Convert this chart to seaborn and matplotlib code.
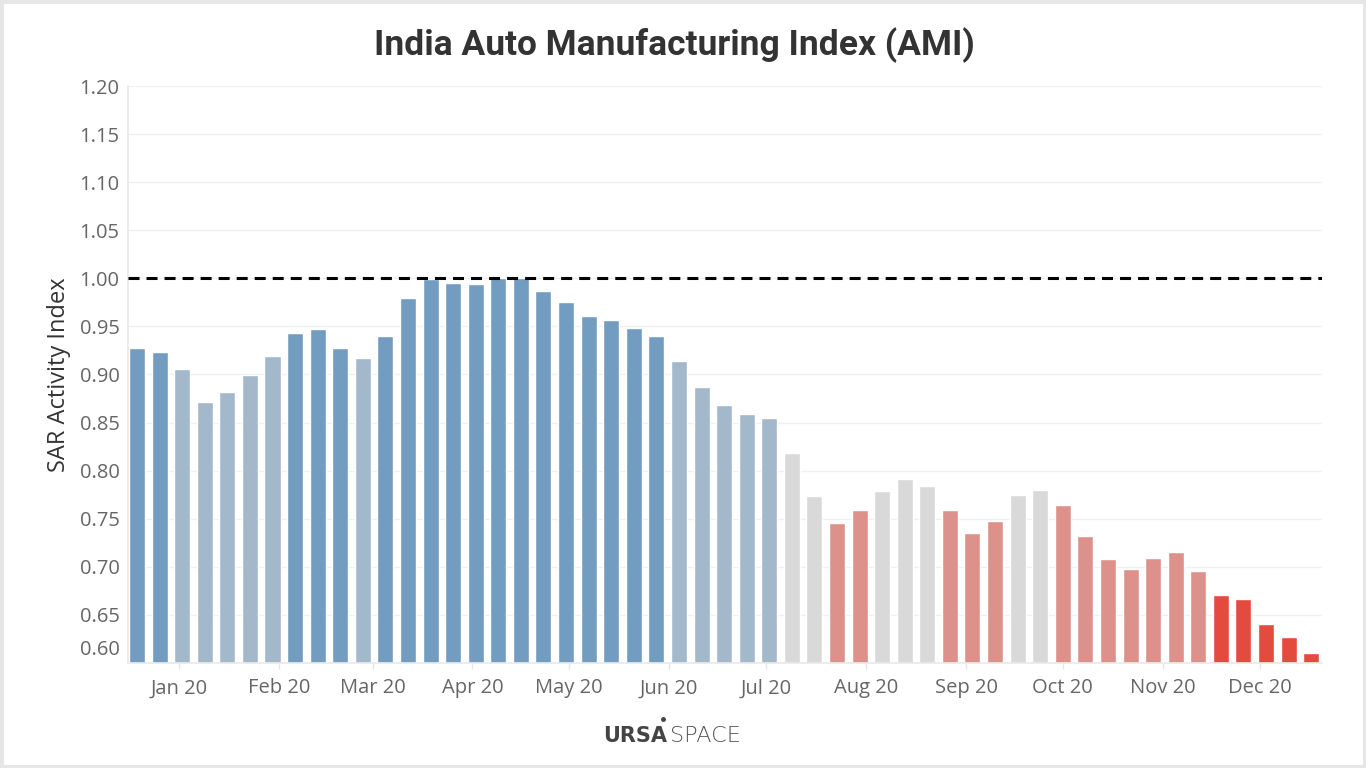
import matplotlib
matplotlib.use("Agg")
import matplotlib.pyplot as plt
import matplotlib.transforms as mtransforms
from matplotlib.lines import Line2D
from matplotlib.patches import Rectangle
import numpy as np
import pandas as pd
import seaborn as sns


# weekly SAR activity index, 2020
week_start = "2019-12-19"
values = [
    0.928, 0.923, 0.906, 0.871, 0.882, 0.899, 0.919, 0.943, 0.947, 0.928,
    0.917, 0.940, 0.980, 0.999, 0.995, 0.994, 1.000, 1.000, 0.987, 0.975,
    0.961, 0.957, 0.948, 0.940, 0.914, 0.887, 0.868, 0.859, 0.855, 0.818,
    0.774, 0.746, 0.759, 0.779, 0.791, 0.784, 0.759, 0.735, 0.748, 0.775,
    0.780, 0.764, 0.732, 0.708, 0.698, 0.709, 0.715, 0.696, 0.671, 0.667,
    0.641, 0.627, 0.610,
]
trend_codes = "DDLLLLLDDDLDDDDDDDDDDDDDLLLLLGGSSGGGSSSGGSSSSSSSRRRRR"
trend_names = {
    "D": "Strong up",
    "L": "Up",
    "G": "Flat",
    "S": "Down",
    "R": "Strong down",
}
palette = {
    "Strong up": "#729DC1",
    "Up": "#A3B8CB",
    "Flat": "#D9D9D9",
    "Down": "#DD918B",
    "Strong down": "#E24B3D",
}
y_ticks = [0.60, 0.65, 0.70, 0.75, 0.80, 0.85, 0.90, 0.95, 1.00, 1.05, 1.10, 1.15, 1.20]


def main():
    weeks = pd.date_range(week_start, periods=len(values), freq="7D")
    df = pd.DataFrame(
        {
            "Week": weeks.strftime("%Y-%m-%d"),
            "Index": values,
            "Trend": [trend_names[c] for c in trend_codes],
        }
    )

    sns.set_theme(style="white")
    plt.rcParams["font.family"] = ["Open Sans", "DejaVu Sans"]

    fig = plt.figure(figsize=(13.66, 7.68), dpi=100)
    ax = fig.add_axes([128 / 1366, 105 / 768, 1194 / 1366, 577 / 768])

    sns.barplot(
        df, x="Week", y="Index", hue="Trend", palette=palette, dodge=False,
        width=0.71, saturation=1, legend=False, ax=ax,
    )

    ax.axhline(1.0, color="black", linewidth=2.2, linestyle=(0, (3.6, 2.3)), zorder=3)

    # month ticks, in week units from the first bar
    months = pd.date_range("2020-01-01", periods=12, freq="MS")
    month_pos = [(m - weeks[0]).days / 7 for m in months]
    ax.set_xticks(month_pos)
    ax.set_xticklabels(months.strftime("%b %y"))
    ax.set_xlim(-0.4, 52.48)

    ax.set_ylim(0.60, 1.20)
    ax.set_yticks(y_ticks)
    ax.set_yticklabels([f"{t:.2f}" for t in y_ticks])
    ax.yaxis.grid(True, color="#F0F0F0", linewidth=1)
    ax.set_axisbelow(True)

    ax.set_xlabel("")
    ax.set_ylabel("SAR Activity Index", fontsize=17, color="#333333", labelpad=6)
    ax.tick_params(axis="y", length=0, pad=6, labelsize=14.5, labelcolor="#666666")
    ax.tick_params(axis="x", length=4, width=1, color="#E6E6E6", pad=7,
                   labelsize=14.5, labelcolor="#666666", bottom=True)

    sns.despine(ax=ax, top=True, right=True)
    ax.spines["left"].set_color("#EAEAEA")
    ax.spines["bottom"].set_color("#EAEAEA")

    # lift the bottom tick label off the baseline
    lift = mtransforms.ScaledTranslation(0, 11 / 72, fig.dpi_scale_trans)
    lbl = ax.yaxis.get_major_ticks()[0].label1
    lbl.set_transform(lbl.get_transform() + lift)

    fig.text(0.494, 1 - 45 / 768, "India Auto Manufacturing Index (AMI)",
             ha="center", va="center", fontsize=25.5, fontweight="bold",
             color="#333333", family=["Roboto", "DejaVu Sans"])

    # footer logo
    fig.text(667 / 1366, 1 - 736 / 768, "URSA", ha="right", va="center",
             fontsize=15, fontweight="bold", color="#444444",
             family=["DejaVu Sans"])
    fig.text(670 / 1366, 1 - 736 / 768, "SPACE", ha="left", va="center",
             fontsize=16, fontweight="light", color="#555555",
             family=["DejaVu Sans"])
    fig.add_artist(Line2D([663 / 1366], [1 - 719 / 768], marker="o", markersize=2.5,
                          color="#444444", transform=fig.transFigure))

    fig.patches.append(Rectangle((0, 0), 1, 1, transform=fig.transFigure, fill=False,
                                 edgecolor="#E6E6E6", linewidth=5))

    fig.savefig("out.png", dpi=100)


if __name__ == "__main__":
    main()
